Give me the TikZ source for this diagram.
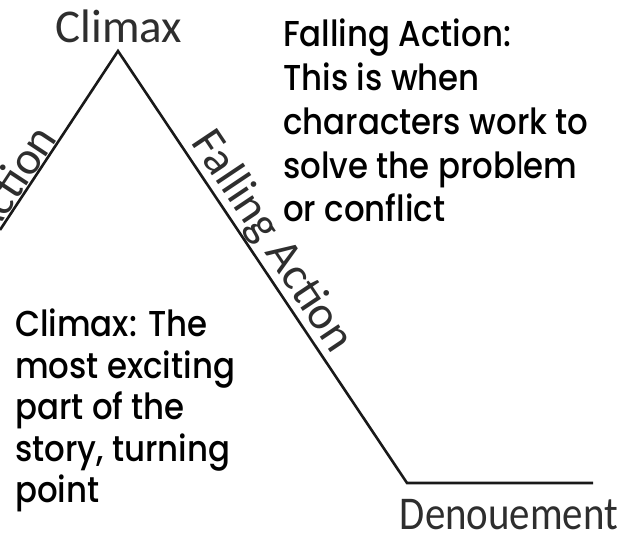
\documentclass[tikz,border=0pt]{standalone}
\usepackage{fontspec}
\setmainfont{Carlito}
\newfontfamily\pop{Poppins Medium}
\begin{document}
\begin{tikzpicture}[x=1pt,y=1pt,
  plotline/.style={line width=2.6pt,black!90},
  lbl/.style={font=\fontsize{47}{50}\selectfont,text=black!82,inner sep=1pt},
  desc/.style={font=\pop\fontsize{36}{43.75}\selectfont,align=left,inner sep=0pt,anchor=north west,xscale=0.9}]
\useasboundingbox (0,0) rectangle (634,538);
\clip (0,0) rectangle (634,538);
\coordinate (L) at (0,308);
\coordinate (P) at (118,487);
\coordinate (B) at (407,55);
\coordinate (E) at (593,55);
\draw[plotline,line join=miter] (L) -- (P) -- (B) -- (E);
\path (L) -- node[pos=0.22,sloped,above,lbl] (ra) {Action} (P);
\path (P) -- node[pos=0.47,sloped,above,lbl] (fa) {Falling Action} (B);
\node[lbl] (cl) at (119,512) {Climax};
\node[lbl,xscale=0.87] (de) at (509,23) {Denouement};
\node[desc] (t1) at (283,519) {Falling Action:\\This is when\\characters work to\\solve the problem\\or conflict};
\node[desc,font=\pop\fontsize{36}{41.5}\selectfont] (t2) at (15,229) {Climax: The\\most exciting\\part of the\\story, turning\\point};
\end{tikzpicture}
\end{document}
